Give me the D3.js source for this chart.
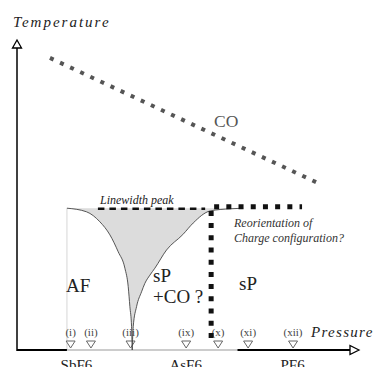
<!DOCTYPE html>
<html>
<head>
<meta charset="utf-8">
<script src="https://cdn.jsdelivr.net/npm/d3@7"></script>
<style>
  body { margin: 0; background: #fff; }
  svg text { font-family: "Liberation Serif", "Times New Roman", Times, serif; }
</style>
</head>
<body>
<div id="chart"></div>
<script>
// pressure / temperature in arbitrary units (0..100 along each axis)
var sampleNames = ["(i)", "(ii)", "(iii)", "(ix)", "(x)", "(xi)", "(xii)"];
var samplePressure = [16.1, 22.2, 34.1, 50.8, 60.4, 69.4, 82.9];

var anionNames = ["SbF6", "AsF6", "PF6"];
var anionPressure = [17.7, 50.5, 82.6];

// phase boundaries: [pressure, temperature]
var afBoundary = [[15.0, 46.8], [20.9, 45.6], [24.9, 42.3], [27.9, 38.0], [30.4, 32.4],
                  [32.4, 27.0], [33.4, 20.9], [33.9, 14.3], [34.4, 7.7], [34.6, 0]];
var spBoundary = [[34.6, 0], [34.9, 7.7], [35.9, 14.3], [37.4, 19.2], [38.4, 22.0],
                  [39.9, 24.7], [41.4, 27.0], [44.9, 33.0], [49.8, 38.1], [52.9, 41.9],
                  [58.0, 45.9], [64.0, 46.6], [67.9, 46.8]];
var linewidthPeak = [[24.3, 46.6], [56.5, 46.6]];
var reorientation = [[58.3, 4.0], [58.3, 47.3], [85.6, 47.3]];
var coLine = [[9.9, 96.4], [89.8, 55.4]];
var afEdge = [[15.0, 46.8], [15.0, 0]];

var width = 374, height = 367;
var serif = "'Liberation Serif', 'Times New Roman', serif";

var svg = d3.select("#chart")
    .append("svg")
    .attr("width", width)
    .attr("height", height);

var x = d3.scaleLinear().domain([0, 100]).range([17, 350]);
var y = d3.scaleLinear().domain([0, 100]).range([350, 47]);

var line = d3.line()
    .x(function(d) { return x(d[0]); })
    .y(function(d) { return y(d[1]); });
var curve = d3.line()
    .x(function(d) { return x(d[0]); })
    .y(function(d) { return y(d[1]); })
    .curve(d3.curveMonotoneX);

// shaded coexistence region
var areaPath = curve(afBoundary) + curve(spBoundary).replace(/^M/, "L") + "Z";
svg.append("path")
    .attr("d", areaPath)
    .attr("fill", "#dcdcdc")
    .attr("stroke", "none");

// AF left edge
svg.append("path")
    .attr("d", line(afEdge))
    .attr("stroke", "#d6d6d6")
    .attr("stroke-width", 1)
    .attr("fill", "none");

// axes
svg.append("line")
    .attr("x1", x(0)).attr("x2", x(0))
    .attr("y1", y(0) + 1).attr("y2", 48)
    .attr("stroke", "#000").attr("stroke-width", 1.5);
svg.append("path")
    .attr("d", "M" + x(0) + ",40 L" + (x(0) - 4.5) + ",48 L" + (x(0) + 4.5) + ",48 Z")
    .attr("fill", "#fff").attr("stroke", "#000").attr("stroke-width", 1.3);

var axisSegs = [[0, 15, "#000", 2], [15, 66.2, "#999", 1], [66.2, 100, "#000", 2]];
svg.selectAll(".xseg")
    .data(axisSegs)
    .enter()
    .append("line")
    .attr("class", "xseg")
    .attr("x1", function(d) { return x(d[0]); })
    .attr("x2", function(d) { return x(d[1]); })
    .attr("y1", y(0)).attr("y2", y(0))
    .attr("stroke", function(d) { return d[2]; })
    .attr("stroke-width", function(d) { return d[3]; });
svg.append("path")
    .attr("d", "M" + (x(100) + 9) + "," + y(0) + " L" + x(100) + "," + (y(0) - 4.5) +
               " L" + x(100) + "," + (y(0) + 4.5) + " Z")
    .attr("fill", "#fff").attr("stroke", "#000").attr("stroke-width", 1.3);

var xAxis = d3.axisBottom(x)
    .tickValues(anionPressure)
    .tickFormat(function(d, i) { return anionNames[i]; })
    .tickSize(0)
    .tickPadding(9);
var xg = svg.append("g")
    .attr("transform", "translate(0," + y(0) + ")")
    .call(xAxis);
xg.select(".domain").remove();
xg.attr("font-family", serif);
xg.selectAll("text")
    .style("font-family", serif)
    .attr("font-size", "15px")
    .attr("fill", "#222");

// axis titles
svg.append("text")
    .attr("x", 13).attr("y", 27)
    .style("font-family", serif)
    .attr("font-style", "italic")
    .attr("font-size", "15px")
    .attr("letter-spacing", "2px")
    .attr("fill", "#222")
    .text("Temperature");
svg.append("text")
    .attr("x", 311).attr("y", 337)
    .style("font-family", serif)
    .attr("font-style", "italic")
    .attr("font-size", "15px")
    .attr("letter-spacing", "1.3px")
    .attr("fill", "#222")
    .text("Pressure");

// CO line
var coLen = Math.hypot(x(coLine[1][0]) - x(coLine[0][0]), y(coLine[1][1]) - y(coLine[0][1]));
svg.append("path")
    .attr("d", line(coLine))
    .attr("stroke", "#555")
    .attr("stroke-width", 4)
    .attr("stroke-dasharray", "4," + ((coLen - 4) / 26 - 4))
    .attr("fill", "none");
svg.append("text")
    .attr("x", 214).attr("y", 127)
    .style("font-family", serif)
    .attr("font-size", "17.5px")
    .attr("fill", "#555")
    .text("CO");

// sample markers
svg.selectAll(".samplelabel")
    .data(sampleNames)
    .enter()
    .append("text")
    .attr("class", "samplelabel")
    .attr("x", function(d, i) { return x(samplePressure[i]); })
    .attr("y", 336)
    .style("font-family", serif)
    .attr("text-anchor", "middle")
    .attr("font-size", "11px")
    .attr("fill", "#444")
    .text(function(d) { return d; });
svg.selectAll(".marker")
    .data(samplePressure)
    .enter()
    .append("path")
    .attr("class", "marker")
    .attr("d", function(d) {
        var cx = x(d);
        return "M" + (cx - 4.5) + ",341 L" + (cx + 4.5) + ",341 L" + cx + ",348 Z";
    })
    .attr("fill", "#fff")
    .attr("stroke", "#666")
    .attr("stroke-width", 1);

// phase boundaries
svg.append("path")
    .attr("d", curve(afBoundary))
    .attr("stroke", "#444").attr("stroke-width", 0.9).attr("fill", "none");
svg.append("path")
    .attr("d", curve(spBoundary))
    .attr("stroke", "#444").attr("stroke-width", 0.9).attr("fill", "none");

svg.append("path")
    .attr("d", line(linewidthPeak))
    .attr("stroke", "#111")
    .attr("stroke-width", 2.5)
    .attr("stroke-dasharray", "6.5,5")
    .attr("fill", "none");
svg.append("path")
    .attr("d", line(reorientation))
    .attr("stroke", "#111")
    .attr("stroke-width", 5)
    .attr("stroke-dasharray", "5,7.2")
    .attr("fill", "none");

// annotations
svg.append("text")
    .attr("x", 100).attr("y", 204)
    .style("font-family", serif)
    .attr("font-style", "italic").attr("font-size", "12px").attr("fill", "#222")
    .text("Linewidth peak");
svg.append("text")
    .attr("x", 234).attr("y", 227)
    .style("font-family", serif)
    .attr("font-style", "italic").attr("font-size", "12px").attr("fill", "#333")
    .text("Reorientation of");
svg.append("text")
    .attr("x", 234).attr("y", 242)
    .style("font-family", serif)
    .attr("font-style", "italic").attr("font-size", "12px").attr("fill", "#333")
    .text("Charge configuration?");

var phaseText = [["AF", 66, 292], ["sP", 153, 282], ["+CO ?", 153, 303], ["sP", 239, 290]];
svg.selectAll(".phase")
    .data(phaseText)
    .enter()
    .append("text")
    .attr("class", "phase")
    .attr("x", function(d) { return d[1]; })
    .attr("y", function(d) { return d[2]; })
    .style("font-family", serif)
    .attr("font-size", "19px")
    .attr("fill", "#222")
    .text(function(d) { return d[0]; });
</script>
</body>
</html>
